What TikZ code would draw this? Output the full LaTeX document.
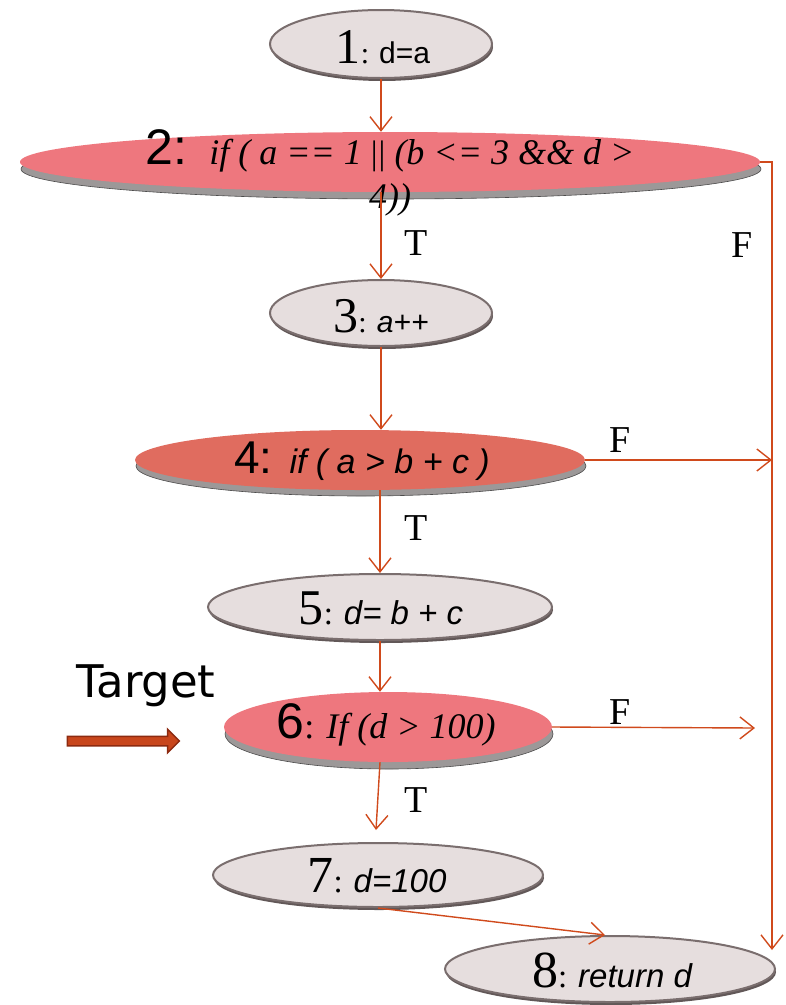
\documentclass[tikz,border=0pt]{standalone}
\usepackage{fontspec}
\setmainfont{Liberation Serif}
\setsansfont{Liberation Sans}
\newfontfamily\labelfont{DejaVu Sans}
\usetikzlibrary{shapes.geometric,shapes.arrows,arrows.meta,calc}

\definecolor{edge}{HTML}{D04A1C}
\definecolor{stmtfill}{HTML}{E6DEDE}
\definecolor{stmtline}{HTML}{7A6E6E}
\definecolor{condfill}{HTML}{EE777E}
\definecolor{condfilldark}{HTML}{E06C5F}
\definecolor{shade}{HTML}{9C9898}
\definecolor{targetfill}{HTML}{C8461C}
\definecolor{targetline}{HTML}{8C2A10}

\newcommand\fs[1]{\fontsize{#1}{#1}\selectfont}

\tikzset{
  stmt/.style={ellipse, draw=stmtline, line width=2pt, fill=stmtfill, inner sep=0pt},
  stmtshadow/.style={ellipse, fill=stmtline!80!black, inner sep=0pt},
  cond/.style={ellipse, fill=condfill, inner sep=0pt},
  condshadow/.style={ellipse, fill=shade, draw=gray!60!black, line width=0.6pt, inner sep=0pt},
  conn/.style={draw=edge, line width=1.4pt, -{Straight Barb[length=14pt,width=22pt]}},
  branch/.style={font=\fs{38}, inner sep=0pt},
  txt/.style={inner sep=0pt},
}

\begin{document}
\begin{tikzpicture}[x=1pt,y=-1pt]
\useasboundingbox (0,0) rectangle (786,1005);

% --- statement and condition nodes (shadow first, then the body) ---
\node[stmtshadow, minimum width=222pt, minimum height=68pt] (s1) at (382,47) {};
\node[stmt, minimum width=222pt, minimum height=68pt] (n1) at (381,44) {};

\node[condshadow, minimum width=740pt, minimum height=60pt] (s2) at (391,169) {};
\node[cond, minimum width=740pt, minimum height=60pt] (n2) at (390,162) {};

\node[stmtshadow, minimum width=222pt, minimum height=66pt] (s3) at (382,316) {};
\node[stmt, minimum width=222pt, minimum height=66pt] (n3) at (381,313) {};

\node[condshadow, minimum width=450pt, minimum height=60pt] (s4) at (361,466) {};
\node[cond, fill=condfilldark, minimum width=450pt, minimum height=60pt] (n4) at (360,460) {};

\node[stmtshadow, minimum width=344pt, minimum height=66pt] (s5) at (381,610) {};
\node[stmt, minimum width=344pt, minimum height=66pt] (n5) at (380,607) {};

\node[condshadow, minimum width=328pt, minimum height=70pt] (s6) at (389,734) {};
\node[cond, minimum width=328pt, minimum height=70pt] (n6) at (388,727) {};

\node[stmtshadow, minimum width=330pt, minimum height=64pt] (s7) at (379,878) {};
\node[stmt, minimum width=330pt, minimum height=64pt] (n7) at (378,875) {};

\node[stmtshadow, minimum width=330pt, minimum height=66pt] (s8) at (611,972) {};
\node[stmt, minimum width=330pt, minimum height=66pt] (n8) at (610,969) {};

% --- node texts ---
\node[txt] (t1) at (383,47) {\fs{50}1\fs{30}: \sffamily d=a};
\node[txt, anchor=base] (t2) at (390,164)
  {{\sffamily\fs{50}2:}\hspace{22pt}{\fs{36}\itshape if ( a == 1 {\upshape\fs{34}|\kern1pt|} (b <= 3 \&\& d >}};
\node[txt, anchor=base] (t2w) at (390,208) {\fs{36}\itshape 4))};
\node[txt] (t3) at (381,316) {\fs{50}3\fs{30}: \sffamily\itshape a++};
\node[txt] (t4) at (362,461) {\sffamily\fs{46}4: \fs{34}\itshape if ( a > b + c )};
\node[txt] (t5) at (381,608) {\fs{50}5\fs{33}: \sffamily\itshape d= b + c};
\node[txt] (t6) at (386,725) {{\sffamily\fs{50}6}\fs{36}: \itshape If (d > 100)};
\node[txt] (t7) at (377,876) {\fs{52}7\fs{33}: \sffamily\itshape d=100};
\node[txt] (t8) at (612,970) {\fs{52}8\fs{33}: \sffamily\itshape return d};

% --- free ends of the F branches ---
\coordinate (f8) at (772,950);
\coordinate (f6) at (755,728);
\coordinate (e7) at (376,830);
\coordinate (e8) at (605,935);

% --- connectors ---
\draw[conn] (n1.south) -- (n1.south |- n2.north);
\draw[conn] (n3.north |- n2.south) -- (n3.north);
\draw[conn] (n2.east) -| (f8);
\draw[conn] (n3.south) -- (n3.south |- n4.north);
\draw[conn] (n4.east) -- (n4.east -| f8);
\draw[conn] (n5.north |- n4.south) -- (n5.north);
\draw[conn] (n5.south) -- (n5.south |- n6.north);
\draw[conn] (n6.east) -- (f6);
\draw[conn] ($(n6.south)+(-8,0)$) -- (e7);
\draw[conn] (n7.south) -- (e8);

% --- branch labels ---
\node[branch] (lt2) at (416,243) {T};
\node[branch] (lf2) at (742,245) {F};
\node[branch] (lf4) at (620,440) {F};
\node[branch] (lt4) at (416,528) {T};
\node[branch] (lf6) at (620,712) {F};
\node[branch] (lt6) at (416,800) {T};

% --- target marker ---
\node[font=\labelfont\fs{45}, inner sep=0pt] (tgt) at (146,686) {Target};
\node[single arrow, fill=targetfill, draw=targetline, line width=1.5pt,
      minimum height=112pt, minimum width=22pt, inner sep=0pt, text height=8pt,
      single arrow head extend=7pt] (tarrow) at (121,741) {};
\end{tikzpicture}
\end{document}
